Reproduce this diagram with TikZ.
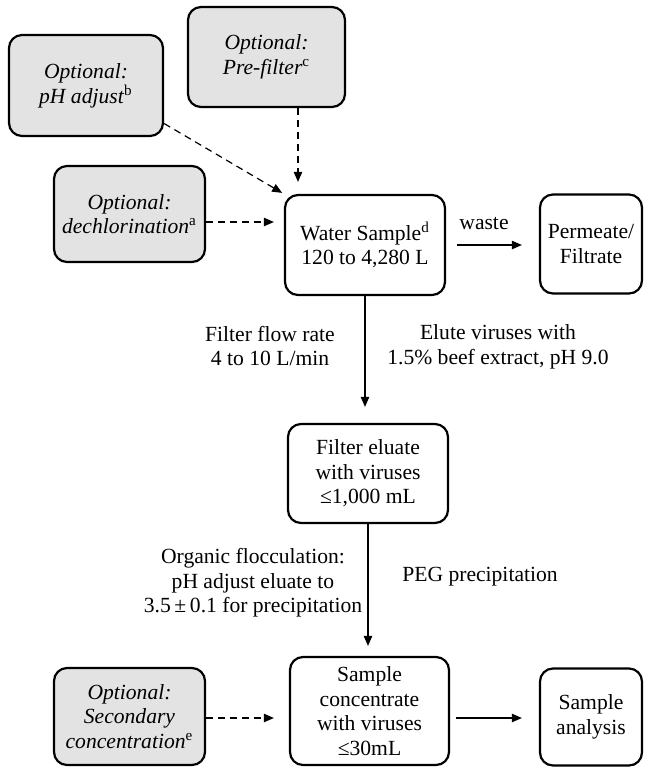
\documentclass[tikz,border=0pt]{standalone}
\usepackage{fontspec}
\setmainfont{Liberation Serif}
\usetikzlibrary{arrows.meta}
\begin{document}
\begin{tikzpicture}[x=0.5pt,y=-0.5pt,
  txt/.style={font=\fontsize{10.8}{12.3}\selectfont},
  box/.style={txt, draw, line width=1.1pt, rounded corners=6.5pt, align=center, inner sep=1pt},
  optbox/.style={box, fill=gray!22},
  flow/.style={line width=0.6pt, -{Triangle[length=5pt,width=4.2pt]}},
  dflow/.style={flow, dash pattern=on 3.5pt off 2.5pt},
  lbl/.style={txt, align=center, inner sep=0pt}]
\useasboundingbox (0,0) rectangle (645,768);

% boxes
\node[optbox, minimum width=77pt, minimum height=50.5pt] (phadj) at (86,85.5)
  {\textit{Optional:}\\\textit{pH adjust}\textsuperscript{b}};
\node[optbox, minimum width=78.5pt, minimum height=50pt] (prefilt) at (266.5,57)
  {\textit{Optional:}\\\textit{Pre-filter}\textsuperscript{c}};
\node[optbox, minimum width=75.5pt, minimum height=48pt] (dechl) at (129.5,214)
  {\textit{Optional:}\\\textit{dechlorination}\textsuperscript{a}};
\node[box, minimum width=80pt, minimum height=50pt] (ws) at (365,245)
  {Water Sample\textsuperscript{d}\\120 to 4,280 L};
\node[box, minimum width=51pt, minimum height=49.5pt] (perm) at (591,244)
  {Permeate/\\Filtrate};
\node[box, minimum width=80pt, minimum height=49.5pt] (elu) at (368,473.5)
  {Filter eluate\\with viruses\\≤1,000 mL};
\node[box, minimum width=79.5pt, minimum height=54pt] (conc) at (369.5,711)
  {Sample\\concentrate\\with viruses\\≤30mL};
\node[optbox, minimum width=75.5pt, minimum height=48.5pt] (sec) at (129.5,716.5)
  {\textit{Optional:}\\\textit{Secondary}\\\textit{concentration}\textsuperscript{e}};
\node[box, minimum width=51pt, minimum height=48.5pt] (ana) at (591,717)
  {Sample\\analysis};

% helper coordinates
\coordinate (ax) at (298,0);
\coordinate (dy) at (0,222);
\coordinate (by) at (0,718);

% dashed inputs
\draw[dflow, shorten >=6pt] (prefilt.south -| ax) -- (ws.north -| ax);
\draw[dflow, shorten >=1pt] ([yshift=-19pt]phadj.east) -- (ws.north west);
\draw[dflow, shorten >=5pt] (dechl.east |- dy) -- (ws.west |- dy);
\draw[dflow, shorten >=7.5pt] (sec.east |- by) -- (conc.west |- by);

% main flow
\draw[flow, shorten <=5.5pt, shorten >=8.5pt] (ws.east) -- (perm.west |- ws.east);
\draw[flow, shorten >=8pt] (ws.south) -- (ws.south |- elu.north);
\draw[flow, shorten >=5pt] (elu.south) -- (elu.south |- conc.north);
\draw[flow, shorten <=3pt, shorten >=8.5pt] (conc.east |- by) -- (ana.west |- by);

% labels
\node[lbl] (lwaste) at (484,224) {waste};
\node[lbl] (lrate) at (270,346) {Filter flow rate\\4 to 10 L/min};
\node[lbl] (lelute) at (498,347) {Elute viruses with\\1.5\% beef extract, pH 9.0};
\node[lbl] (lfloc) at (253,583) {Organic flocculation:\\pH adjust eluate to\\3.5\,±\,0.1 for precipitation};
\node[lbl] (lpeg) at (480,577) {PEG precipitation};
\end{tikzpicture}
\end{document}
